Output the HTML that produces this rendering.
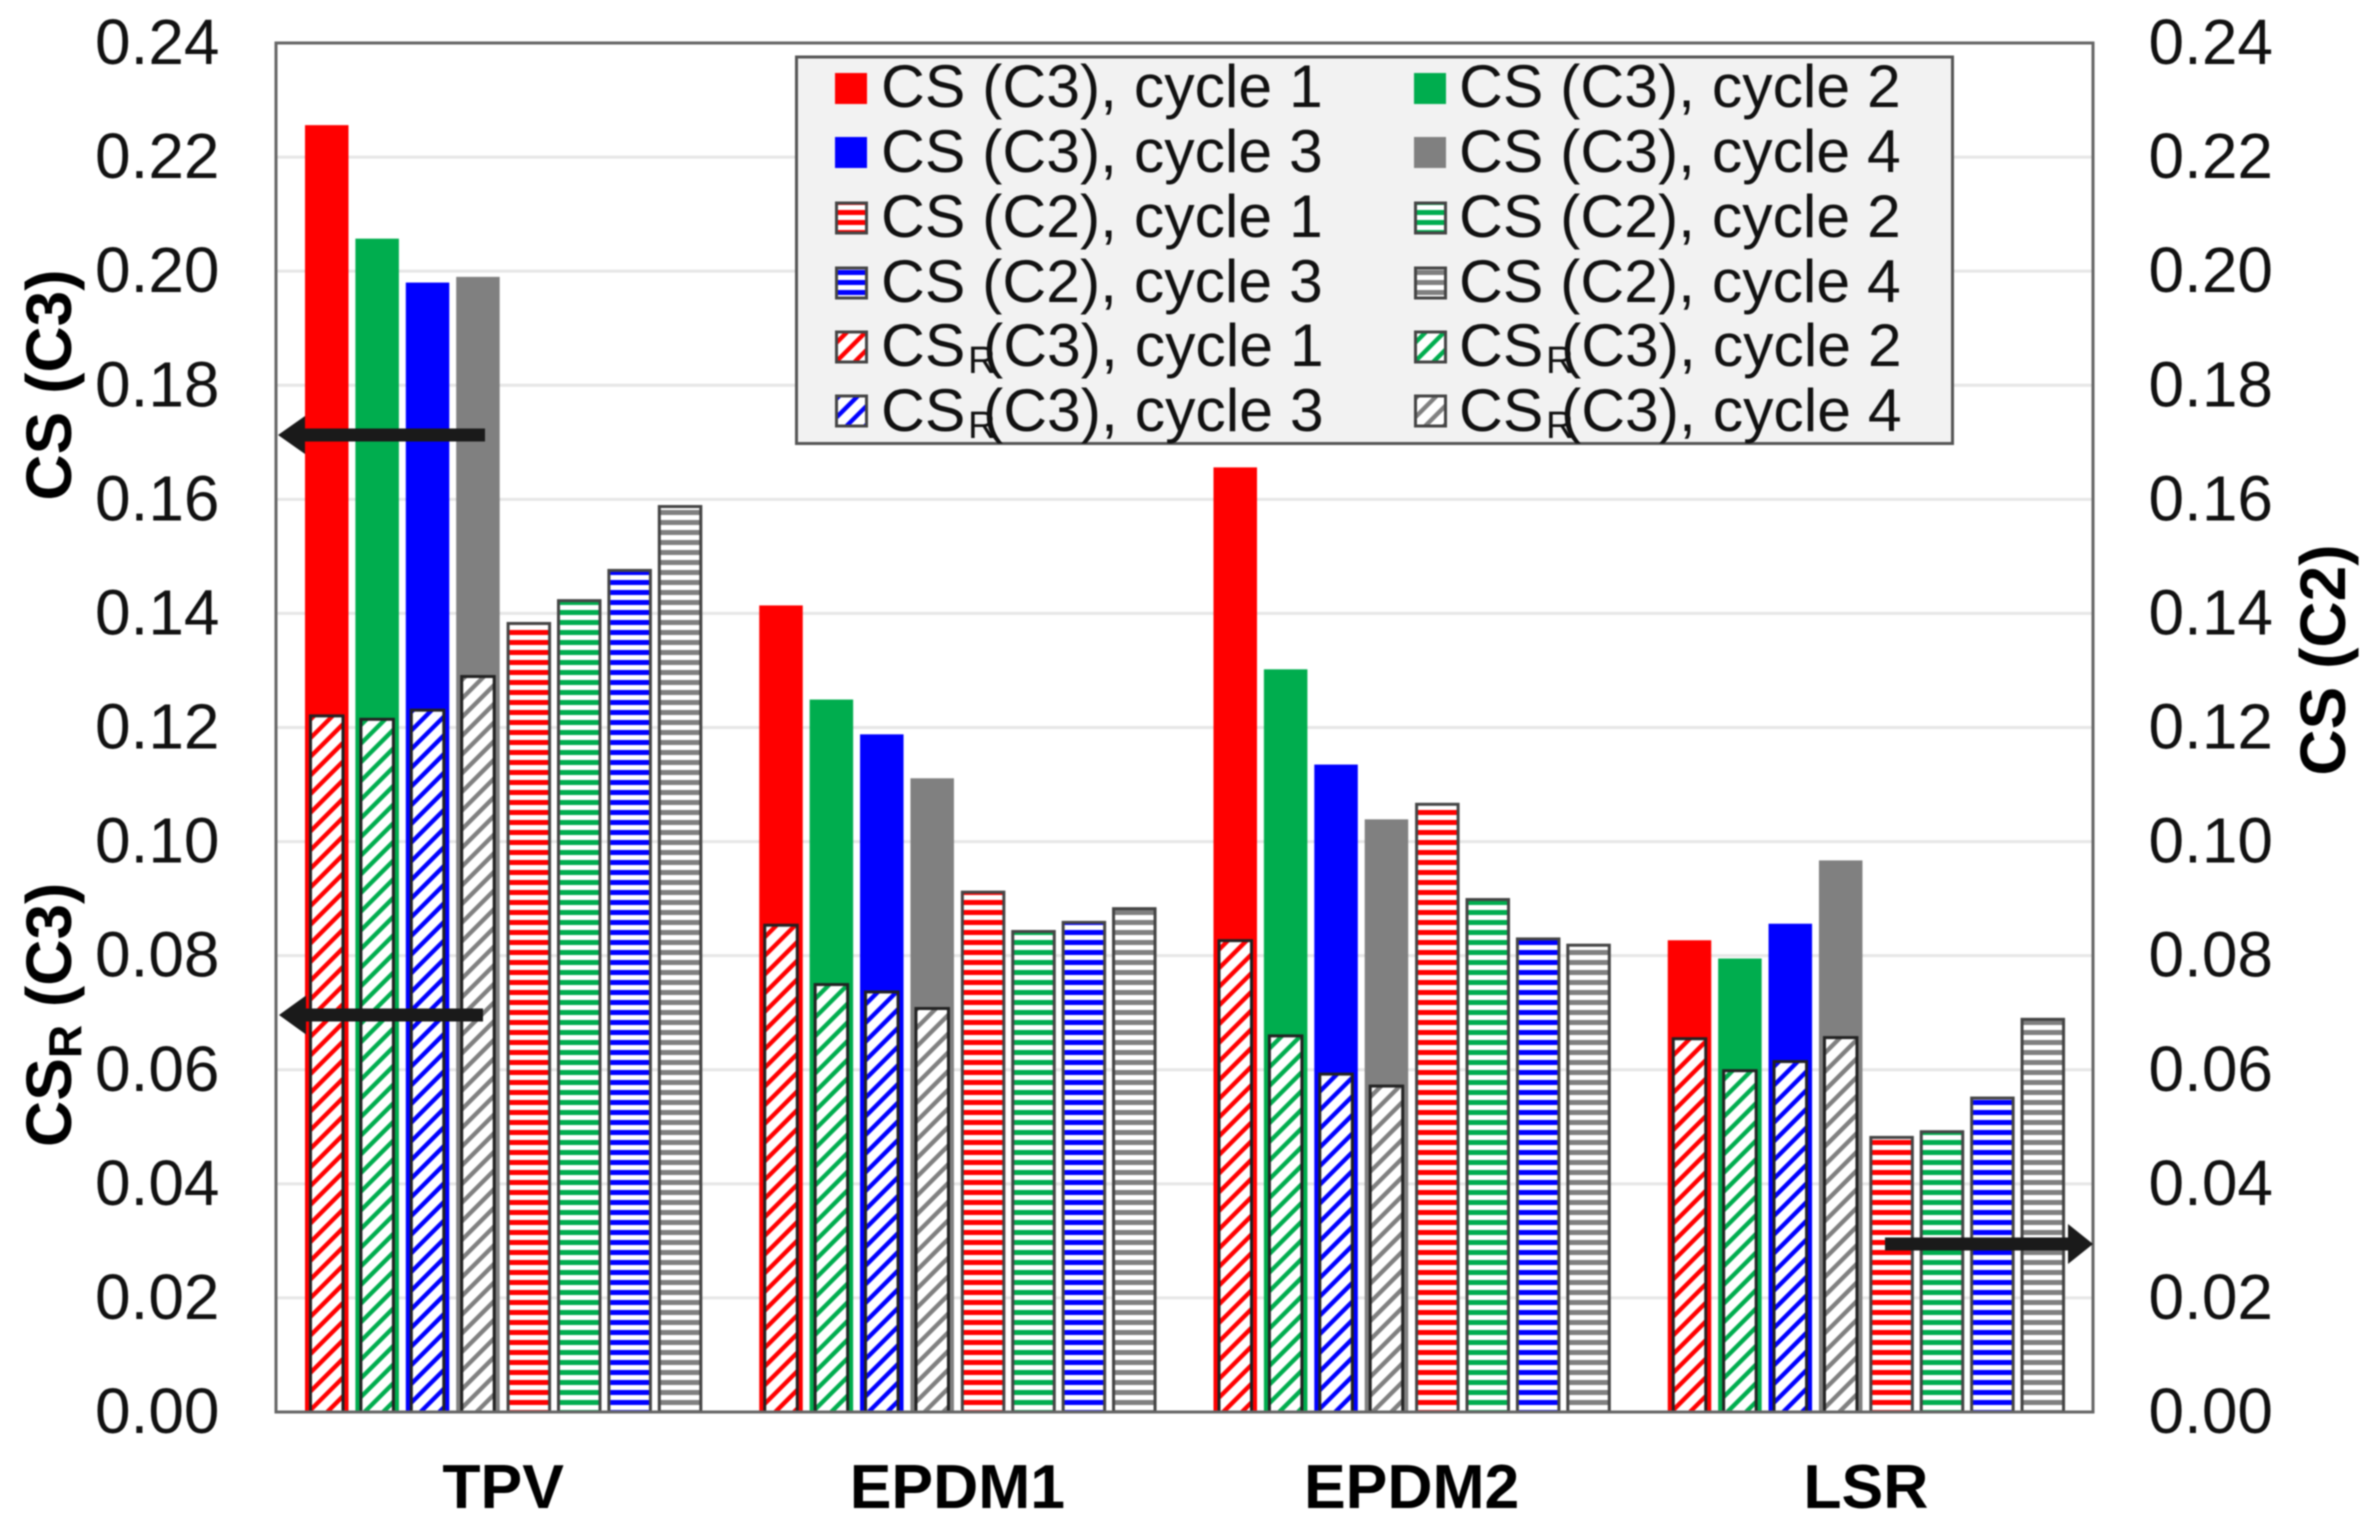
<!DOCTYPE html>
<html lang="en">
<head>
<meta charset="utf-8">
<title>CS and CSR by material</title>
<style>
html,body{margin:0;padding:0;background:#fff;width:2379px;height:1535px;overflow:hidden}
svg{display:block;filter:blur(0.7px)}
text{font-family:"Liberation Sans",Arial,sans-serif;fill:#111}
.tick{font-size:64px}
.ttl{font-size:64px;font-weight:bold;fill:#000}
.cat{font-size:62.5px;font-weight:bold;fill:#000;text-anchor:middle}
.leg{font-size:60.7px}
.sub{font-size:38px}
</style>
</head>
<body>
<svg id="chart" xmlns="http://www.w3.org/2000/svg" width="2379" height="1535" viewBox="0 0 2379 1535">
<defs>
<pattern id="hr" patternUnits="userSpaceOnUse" width="12" height="10"><rect width="12" height="10" fill="#fff"/><rect width="12" height="5" fill="#ff0000"/></pattern>
<pattern id="hg" patternUnits="userSpaceOnUse" width="12" height="10"><rect width="12" height="10" fill="#fff"/><rect width="12" height="5" fill="#00ad4e"/></pattern>
<pattern id="hb" patternUnits="userSpaceOnUse" width="12" height="10"><rect width="12" height="10" fill="#fff"/><rect width="12" height="5" fill="#0000ff"/></pattern>
<pattern id="hk" patternUnits="userSpaceOnUse" width="12" height="10"><rect width="12" height="10" fill="#fff"/><rect width="12" height="5" fill="#808080"/></pattern>
<pattern id="dr" patternUnits="userSpaceOnUse" width="13.2" height="13.2" patternTransform="rotate(45)"><rect width="13.2" height="13.2" fill="#fff"/><rect width="4.4" height="13.2" fill="#ff0000"/></pattern>
<pattern id="dg" patternUnits="userSpaceOnUse" width="13.2" height="13.2" patternTransform="rotate(45)"><rect width="13.2" height="13.2" fill="#fff"/><rect width="4.4" height="13.2" fill="#00ad4e"/></pattern>
<pattern id="db" patternUnits="userSpaceOnUse" width="13.2" height="13.2" patternTransform="rotate(45)"><rect width="13.2" height="13.2" fill="#fff"/><rect width="4.4" height="13.2" fill="#0000ff"/></pattern>
<pattern id="dk" patternUnits="userSpaceOnUse" width="13.2" height="13.2" patternTransform="rotate(45)"><rect width="13.2" height="13.2" fill="#fff"/><rect width="4.4" height="13.2" fill="#808080"/></pattern>
</defs>
<rect x="0" y="0" width="2379" height="1535" fill="#fff"/>
<g id="grid"></g>
<g id="bars"></g>
<rect x="276" y="43" width="1817" height="1369" fill="none" stroke="#666" stroke-width="3"/>
<g id="ticks"></g>
<g id="cats"></g>

<text class="ttl" transform="translate(71,385) rotate(-90)" text-anchor="middle">CS (C3)</text>
<text class="ttl" transform="translate(71,1147) rotate(-90)">CS<tspan font-size="46" dy="10">R</tspan><tspan dy="-10"> (C3)</tspan></text>
<text class="ttl" transform="translate(2345,660) rotate(-90)" text-anchor="middle">CS (C2)</text>

<path d="M485 428.500H305V416L278 435L305 454V441.500H485Z" fill="#1a1a1a"/>
<path d="M483 1008.500H306V995.500L279 1015L306 1034.500V1021.500H483Z" fill="#1a1a1a"/>
<path d="M1885 1237.500H2068V1224L2093 1244L2068 1264V1250.500H1885Z" fill="#1a1a1a"/>

<g>
<rect x="796.500" y="57" width="1156" height="386.500" fill="#f2f2f2" stroke="#555" stroke-width="3"/>

<g><rect x="835" y="73" width="32" height="31" fill="#ff0000"/><text class="leg" x="881" y="107">CS (C3), cycle 1</text></g>
<g><rect x="1414" y="73" width="32" height="31" fill="#00ad4e"/><text class="leg" x="1459" y="107">CS (C3), cycle 2</text></g>
<g><rect x="835" y="137" width="32" height="31" fill="#0000ff"/><text class="leg" x="881" y="172">CS (C3), cycle 3</text></g>
<g><rect x="1414" y="137" width="32" height="31" fill="#808080"/><text class="leg" x="1459" y="172">CS (C3), cycle 4</text></g>

<g><rect x="836.500" y="203" width="30" height="30" fill="url(#hr)" stroke="#444" stroke-width="3"/><text class="leg" x="881" y="237">CS (C2), cycle 1</text></g>
<g><rect x="1415.500" y="203" width="30" height="30" fill="url(#hg)" stroke="#444" stroke-width="3"/><text class="leg" x="1459" y="237">CS (C2), cycle 2</text></g>
<g><rect x="836.500" y="268" width="30" height="30" fill="url(#hb)" stroke="#444" stroke-width="3"/><text class="leg" x="881" y="302">CS (C2), cycle 3</text></g>
<g><rect x="1415.500" y="268" width="30" height="30" fill="url(#hk)" stroke="#444" stroke-width="3"/><text class="leg" x="1459" y="302">CS (C2), cycle 4</text></g>

<g><rect x="836.500" y="332" width="30" height="30" fill="url(#dr)" stroke="#444" stroke-width="3"/><text class="leg" y="366"><tspan x="881">CS</tspan><tspan class="sub" x="968" dy="7">R</tspan><tspan x="983" dy="-7">(C3), cycle 1</tspan></text></g>
<g><rect x="1415.500" y="332" width="30" height="30" fill="url(#dg)" stroke="#444" stroke-width="3"/><text class="leg" y="366"><tspan x="1459">CS</tspan><tspan class="sub" x="1546" dy="7">R</tspan><tspan x="1561" dy="-7">(C3), cycle 2</tspan></text></g>
<g><rect x="836.500" y="396" width="30" height="30" fill="url(#db)" stroke="#444" stroke-width="3"/><text class="leg" y="431"><tspan x="881">CS</tspan><tspan class="sub" x="968" dy="7">R</tspan><tspan x="983" dy="-7">(C3), cycle 3</tspan></text></g>
<g><rect x="1415.500" y="396" width="30" height="30" fill="url(#dk)" stroke="#444" stroke-width="3"/><text class="leg" y="431"><tspan x="1459">CS</tspan><tspan class="sub" x="1546" dy="7">R</tspan><tspan x="1561" dy="-7">(C3), cycle 4</tspan></text></g>
</g>
</svg>
<script>
const categories = ["TPV", "EPDM1", "EPDM2", "LSR"];
const tickLabels = ["0.00","0.02","0.04","0.06","0.08","0.10","0.12","0.14","0.16","0.18","0.20","0.22","0.24"];
const csC3Cycle1 = [0.2256, 0.1414, 0.1656, 0.0827];
const csC3Cycle2 = [0.2057, 0.1249, 0.1302, 0.0795];
const csC3Cycle3 = [0.1980, 0.1188, 0.1135, 0.0856];
const csC3Cycle4 = [0.1990, 0.1111, 0.1039, 0.0967];
const csrC3Cycle1 = [0.1223, 0.0856, 0.0829, 0.0657];
const csrC3Cycle2 = [0.1217, 0.0752, 0.0662, 0.0601];
const csrC3Cycle3 = [0.1233, 0.0739, 0.0595, 0.0617];
const csrC3Cycle4 = [0.1292, 0.0710, 0.0574, 0.0659];
const csC2Cycle1 = [0.1385, 0.0914, 0.1068, 0.0484];
const csC2Cycle2 = [0.1425, 0.0845, 0.0901, 0.0494];
const csC2Cycle3 = [0.1478, 0.0861, 0.0832, 0.0553];
const csC2Cycle4 = [0.1590, 0.0885, 0.0821, 0.0691];

const NS = "http://www.w3.org/2000/svg";
const plotLeft = 276, plotRight = 2093, plotTop = 43, plotBottom = 1412, yMax = 0.24;
function yScale(v){ return plotBottom - (v / yMax) * (plotBottom - plotTop); }
function catStart(i){ return plotLeft + i * (plotRight - plotLeft) / categories.length; }
function slotX(i, slot){ return catStart(i) + 29 + slot * 50.4; }
function make(tag, props, parent){
  const el = document.createElementNS(NS, tag);
  for (const k in props) el.setAttribute(k, props[k]);
  parent.appendChild(el);
  return el;
}

const gridG = document.getElementById("grid");
const ticksG = document.getElementById("ticks");
tickLabels.forEach(function(label){
  const v = parseFloat(label);
  const y = yScale(v);
  if (v > 0 && v < yMax) {
    const line = make("line", {x1: plotLeft, x2: plotRight, y1: y, y2: y, stroke: "#e6e6e6", "stroke-width": 3}, gridG);
    
    
  }
  const left = make("text", {class: "tick", x: 219.5, y: y + 21, "text-anchor": "end"}, ticksG);
  left.textContent = label;
  
  
  const right = make("text", {class: "tick", x: 2273, y: y + 21, "text-anchor": "end"}, ticksG);
  right.textContent = label;
  
  
});

const catsG = document.getElementById("cats");
categories.forEach(function(name, i){
  const t = make("text", {class: "cat", x: catStart(i) + (plotRight - plotLeft) / categories.length / 2, y: 1508}, catsG);
  t.textContent = name;
  
  
});

const barsG = document.getElementById("bars");
const solidSeries = [csC3Cycle1, csC3Cycle2, csC3Cycle3, csC3Cycle4];
const solidColors = ["#ff0000", "#00ad4e", "#0000ff", "#808080"];
const hatchSeries = [csrC3Cycle1, csrC3Cycle2, csrC3Cycle3, csrC3Cycle4];
const hatchFills = ["url(#dr)", "url(#dg)", "url(#db)", "url(#dk)"];
const stripeSeries = [csC2Cycle1, csC2Cycle2, csC2Cycle3, csC2Cycle4];
const stripeFills = ["url(#hr)", "url(#hg)", "url(#hb)", "url(#hk)"];

categories.forEach(function(name, i){
  solidSeries.forEach(function(series, s){
    const y = yScale(series[i]);
    const bar = make("rect", {x: slotX(i, s), y: y, width: 43.5, height: plotBottom - y, fill: solidColors[s]}, barsG);
    
    
  });
  hatchSeries.forEach(function(series, s){
    const y = yScale(series[i]);
    const bar = make("rect", {x: slotX(i, s) + 5.5, y: y + 1.5, width: 32.5, height: plotBottom - y - 1.5, fill: hatchFills[s], stroke: "#222", "stroke-width": 3}, barsG);
    
    
  });
  stripeSeries.forEach(function(series, s){
    const y = yScale(series[i]);
    const bar = make("rect", {x: slotX(i, s + 4) + 1.5, y: y + 1.5, width: 41.5, height: plotBottom - y - 1.5, fill: stripeFills[s], stroke: "#444", "stroke-width": 3}, barsG);
    
    
  });
});
</script>
</body>
</html>
